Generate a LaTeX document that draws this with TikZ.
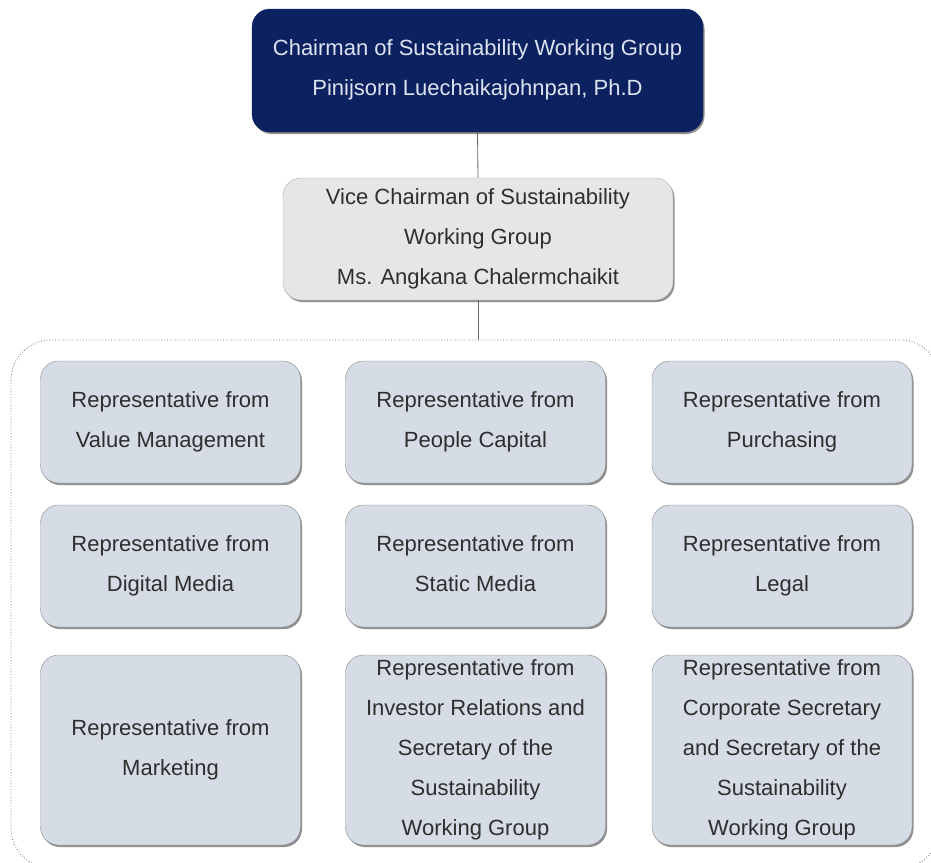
\documentclass[tikz,border=0pt]{standalone}
\usepackage{fontspec}
\setmainfont{Liberation Sans}
\usetikzlibrary{shadows}
\definecolor{navy}{HTML}{0B2160}
\definecolor{navytext}{HTML}{DDE3EE}
\definecolor{vicefill}{HTML}{E6E6E6}
\definecolor{gridfill}{HTML}{D6DCE5}
\definecolor{txt}{HTML}{2E2E2E}
\definecolor{edge}{HTML}{8A8A8A}
\tikzset{
  boxbase/.style={rounded corners=18pt, align=center, inner sep=0pt,
    font=\fontsize{22}{40}\selectfont,
    execute at begin node=\rule{0pt}{35pt}, execute at end node=\rule[-5pt]{0pt}{5pt},
    drop shadow={shadow xshift=1.5pt, shadow yshift=-2pt, fill=black!55, opacity=0.8}},
  chair/.style={boxbase, fill=navy, draw=navy, text=navytext},
  vice/.style={boxbase, fill=vicefill, draw=edge!70, text=txt},
  rep/.style={boxbase, fill=gridfill, draw=edge, text=txt, minimum width=260pt},
  link/.style={draw=black!60, line width=0.8pt},
  group/.style={draw=black!55, dotted, line width=0.8pt, rounded corners=40pt}
}
\begin{document}
\begin{tikzpicture}[x=1pt,y=-1pt]
\useasboundingbox (0,0) rectangle (931,862);
\draw[group] (11,340) rectangle (940,868);
\node[chair, minimum width=451pt, minimum height=123pt] (chair) at (477.5,70.5)
  {Chairman of Sustainability Working Group\\Pinijsorn Luechaikajohnpan, Ph.D};
\node[vice, minimum width=390pt, minimum height=122pt] (vice) at (478,239)
  {Vice Chairman of Sustainability\\Working Group\\Ms. Angkana Chalermchaikit};
\coordinate (gtop) at (478,340);
\draw[link] (chair.south) -- (vice.north);
\draw[link] (vice.south) -- (gtop);
% row 1
\node[rep, minimum height=122pt] (r11) at (170.5,422) {Representative from\\Value Management};
\node[rep, minimum height=122pt] (r12) at (475.5,422) {Representative from\\People Capital};
\node[rep, minimum height=122pt] (r13) at (782,422) {Representative from\\Purchasing};
% row 2
\node[rep, minimum height=122pt] (r21) at (170.5,566) {Representative from\\Digital Media};
\node[rep, minimum height=122pt] (r22) at (475.5,566) {Representative from\\Static Media};
\node[rep, minimum height=122pt] (r23) at (782,566) {Representative from\\Legal};
% row 3
\node[rep, minimum height=190pt] (r31) at (170.5,750) {Representative from\\Marketing};
\node[rep, minimum height=190pt] (r32) at (475.5,750) {Representative from\\Investor Relations and\\Secretary of the\\Sustainability\\Working Group};
\node[rep, minimum height=190pt] (r33) at (782,750) {Representative from\\Corporate Secretary\\and Secretary of the\\Sustainability\\Working Group};
\end{tikzpicture}
\end{document}
